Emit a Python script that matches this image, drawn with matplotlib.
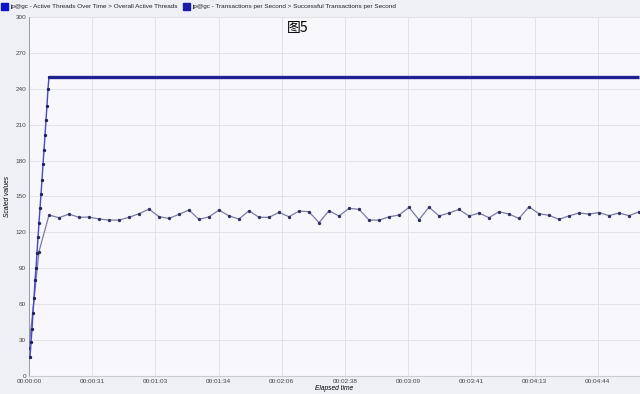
import matplotlib
matplotlib.use('Agg')
import matplotlib.pyplot as plt
from matplotlib.patches import Rectangle

plt.rcParams['font.family'] = ['Liberation Sans', 'Noto Sans CJK SC', 'DejaVu Sans']

# dados
ramp_time = [0.5, 1, 1.5, 2, 2.5, 3, 3.5, 4, 4.5, 5, 5.5, 6, 6.5, 7, 7.5, 8, 8.5, 9, 9.5, 10, 305]
threads = [16, 28, 39, 53, 65, 80, 90, 103, 116, 128, 140, 152, 164, 177, 189, 201, 214, 226, 240, 250, 250]

tps_time = [0] + [5 * k for k in range(1, 62)]
tps = [23.6, 104,
       134.5, 132.3, 135.3, 132.6, 132.8, 131.2, 130.3, 130.3, 132.6, 135.6,
       139.5, 133.1, 131.7, 135.1, 138.7, 130.9, 133.0, 138.7, 133.8, 131.2,
       138.1, 132.6, 132.6, 136.7, 133.1, 137.8, 137.3, 128.1, 138.1, 133.7,
       140.1, 139.3, 130.3, 130.3, 133.0, 134.5, 140.9, 130.6, 141.1, 133.8,
       136.2, 139.2, 133.7, 136.2, 132.3, 137.3, 135.3, 131.7, 141.4, 135.6,
       134.3, 130.9, 133.8, 136.2, 135.3, 136.6, 134.0, 136.2, 134.0, 137.2]

x_ticks = [0, 31.6, 63.2, 94.8, 126.4, 158, 189.6, 221.2, 252.8, 284.4]
x_labels = ['00:00:00', '00:00:31', '00:01:03', '00:01:34', '00:02:06',
            '00:02:38', '00:03:09', '00:03:41', '00:04:13', '00:04:44']
y_ticks = [0, 30, 60, 90, 120, 150, 180, 210, 240, 270, 300]

legend_labels = ['jp@gc - Active Threads Over Time > Overall Active Threads',
                 'jp@gc - Transactions per Second > Successful Transactions per Second']

fig = plt.figure(figsize=(6.4, 3.94), dpi=100)
fig.patch.set_facecolor('#eef0f6')
ax = fig.add_axes([29 / 640, 18 / 394, 611 / 640, 359 / 394])
ax.set_facecolor('#f7f7fc')

# linha de transacoes (cinza-lilas com pontos escuros)
ax.plot(tps_time, tps, color='#7c7ca4', lw=0.9, marker='o', ms=1.4,
        mfc='#303060', mec='#303060', zorder=3)
# linha de threads (azul escuro, grossa no patamar)
ax.plot(ramp_time[:-1], threads[:-1], color='#4848c8', lw=1.0, marker='o', ms=1.4,
        mfc='#202060', mec='#202060', zorder=4)
ax.plot(ramp_time[-2:], threads[-2:], color='#202090', lw=2.4, zorder=4,
        solid_capstyle='butt')

ax.set_xlim(0, 305.5)
ax.set_ylim(0, 300)
ax.set_xticks(x_ticks)
ax.set_xticklabels(x_labels)
ax.set_yticks(y_ticks)
ax.tick_params(labelsize=4.6, colors='#444444', length=0, pad=2)
ax.grid(True, color='#dedee8', lw=0.6)
for s in ['top', 'right']:
    ax.spines[s].set_visible(False)
ax.spines['left'].set_color('#999999')
ax.spines['bottom'].set_color('#cccccc')
ax.spines['left'].set_linewidth(0.7)

ax.set_xlabel('Elapsed time', fontsize=4.8, style='italic', labelpad=1)
ax.set_ylabel('Scaled values', fontsize=4.8, style='italic', labelpad=3)

# legenda no topo
sq_colors = ['#1010c8', '#1a1aa8']
sq_x = [1, 183]
for c, x0, lab in zip(sq_colors, sq_x, legend_labels):
    fig.patches.append(Rectangle((x0 / 640, 1 - 10 / 394), 7 / 640, 7 / 394,
                                 transform=fig.transFigure, color=c))
    fig.text((x0 + 9) / 640, 1 - 6.5 / 394, lab, fontsize=4.6, va='center',
             color='#222222')

fig.text(298 / 640, 1 - 28 / 394, '图5', fontsize=10, ha='center', va='center',
         family=['Noto Sans CJK SC', 'DejaVu Sans'])

fig.savefig('out.png', dpi=100)
